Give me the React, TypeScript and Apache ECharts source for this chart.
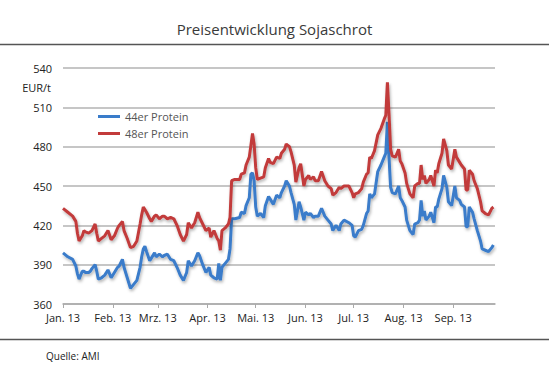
import React, { useEffect, useRef } from "react";
import * as echarts from "echarts";

// Day offsets from 1 Jan 2013
const dayOfYear2013 = [
  0, 3, 6, 8, 9, 10, 12, 13, 14, 16,
  17, 18, 20, 21, 22, 24, 26, 28, 30, 32,
  34, 35, 37, 38, 40, 42, 44, 46, 48, 49,
  50, 51, 52, 54, 55, 57, 58, 60, 62, 63,
  65, 67, 69, 71, 73, 75, 77, 78, 80, 82,
  84, 85, 87, 89, 91, 92, 94, 96, 97, 98,
  99, 101, 103, 104, 105, 107, 110, 111, 113, 114,
  116, 117, 118, 119, 120, 121, 123, 125, 126, 128,
  129, 131, 133, 135, 136, 138, 139, 141, 142, 144,
  145, 147, 148, 150, 151, 153, 154, 156, 157, 159,
  161, 163, 165, 167, 168, 170, 172, 173, 175, 178,
  180, 181, 182, 184, 186, 187, 189, 190, 191, 192,
  194, 196, 198, 200, 201, 202, 203, 204, 205, 207,
  209, 210, 211, 213, 214, 216, 218, 219, 221, 222,
  223, 224, 225, 226, 228, 229, 231, 232, 233, 234,
  236, 237, 239, 240, 242, 244, 245, 247, 248, 250,
  251, 252, 253, 255, 256, 258, 260, 261, 263, 265,
  267, 268,
];

const protein44 = [
  399, 396, 394, 389, 383, 379, 385, 385, 384, 384,
  385, 387, 390, 385, 379, 380, 382, 386, 380, 384,
  388, 389, 394, 388, 380, 372, 375, 378, 388, 396,
  402, 404, 400, 393, 395, 399, 396, 398, 396, 397,
  398, 394, 393, 388, 382, 378, 384, 393, 389, 393,
  399, 397, 390, 384, 388, 382, 380, 379, 391, 378,
  388, 391, 394, 402, 425, 425, 426, 430, 429, 435,
  441, 459, 460, 454, 434, 427, 429, 426, 435, 442,
  440, 436, 443, 441, 445, 450, 454, 450, 445, 436,
  424, 438, 434, 424, 430, 428, 429, 426, 427, 427,
  433, 427, 424, 421, 416, 420, 416, 421, 424, 422,
  420, 412, 411, 416, 417, 420, 429, 431, 444, 441,
  444, 461, 466, 472, 475, 499, 472, 449, 445, 444,
  450, 441, 439, 434, 424, 416, 413, 421, 422, 424,
  439, 427, 431, 424, 427, 430, 422, 434, 434, 440,
  448, 458, 449, 438, 435, 450, 441, 439, 436, 434,
  419, 419, 434, 430, 425, 416, 408, 402, 401, 400,
  403, 405,
];

const protein48 = [
  433, 430, 427, 423, 414, 408, 412, 416, 415, 414,
  415, 416, 421, 414, 408, 410, 412, 416, 409, 412,
  418, 420, 423, 416, 410, 403, 404, 408, 421, 428,
  434, 432, 430, 425, 423, 427, 428, 425, 427, 427,
  425, 426, 425, 420, 413, 408, 413, 422, 418, 422,
  430, 426, 421, 416, 418, 411, 416, 410, 408, 401,
  416, 418, 421, 426, 454, 455, 455, 459, 460, 466,
  472, 481, 490, 482, 464, 455, 456, 457, 464, 471,
  468, 467, 472, 471, 475, 478, 482, 480, 476, 466,
  453, 464, 467, 450, 455, 458, 455, 457, 454, 454,
  461, 454, 450, 448, 443, 445, 449, 448, 450, 450,
  445, 441, 444, 445, 448, 453, 459, 460, 472, 471,
  477, 489, 494, 501, 504, 529, 505, 478, 473, 472,
  478, 469, 467, 460, 452, 444, 441, 450, 452, 452,
  466, 455, 458, 452, 455, 458, 450, 462, 460, 467,
  475, 486, 477, 466, 463, 478, 472, 468, 466, 463,
  447, 447, 462, 459, 454, 448, 438, 431, 429, 428,
  433, 434,
];

const monthLabels = ["Jan.", "Feb.", "Mrz.", "Apr.", "Mai.", "Jun.", "Jul.", "Aug.", "Sep.", "Okt.", "Nov.", "Dez."];
const seriesNames = ["44er Protein", "48er Protein"];
const yTicks = { min: 360, max: 540, interval: 30 };
const axisEndDay = 269;

const DAY = 86400000;
const toTime = (d: number) => new Date(2013, 0, 1 + d).getTime();

export default function App() {
  const ref = useRef<HTMLDivElement>(null);

  useEffect(() => {
    document.body.style.margin = "0";
    if (!ref.current) return;
    const chart = echarts.init(ref.current, undefined, { renderer: "svg" });
    const font = "'Open Sans', 'Noto Sans', sans-serif";
    const shadow = {
      shadowColor: "rgba(0,0,0,0.3)",
      shadowBlur: 3,
      shadowOffsetX: 1,
      shadowOffsetY: 2,
    };
    chart.setOption({
      animation: false,
      backgroundColor: "#ffffff",
      textStyle: { fontFamily: font },
      title: {
        text: "Preisentwicklung Sojaschrot",
        left: "center",
        top: 16,
        textStyle: { fontSize: 15, fontWeight: "normal", color: "#3a3a3a", fontFamily: font },
      },
      legend: {
        orient: "vertical",
        left: 98,
        top: 111,
        itemWidth: 22,
        itemHeight: 3,
        itemGap: 6,
        icon: "rect",
        padding: 0,
        textStyle: { fontSize: 11, color: "#555", fontFamily: font },
        data: seriesNames,
      },
      grid: { left: 63, right: 54, top: 68, bottom: 71, containLabel: false, outerBoundsMode: "none" },
      xAxis: {
        type: "time",
        min: toTime(0),
        max: toTime(axisEndDay),
        minInterval: 28 * DAY,
        maxInterval: 31 * DAY,
        splitNumber: 9,
        axisLine: { show: true, lineStyle: { color: "#aaa", width: 1.5 } },
        axisTick: { show: true, length: 4, lineStyle: { color: "#aaa" } },
        splitLine: { show: false },
        axisLabel: {
          color: "#222",
          fontSize: 11,
          margin: 8,
          hideOverlap: false,
          fontFamily: font,
          formatter: (v: number) => {
            const d = new Date(v);
            return monthLabels[d.getMonth()] + " 13";
          },
        },
      },
      yAxis: {
        type: "value",
        min: yTicks.min,
        max: yTicks.max,
        interval: yTicks.interval,
        axisLine: { show: false },
        axisTick: { show: false },
        splitLine: { show: true, lineStyle: { color: "#b3b3b3", width: 1.5 } },
        axisLabel: { color: "#222", fontSize: 11, margin: 11, fontFamily: font },
      },
      series: [
        {
          name: seriesNames[0],
          type: "line",
          symbol: "none",
          color: "#3a7cca",
          lineStyle: { width: 3, color: "#3a7cca", ...shadow },
          data: dayOfYear2013.map((d, i) => [toTime(d), protein44[i]]),
        },
        {
          name: seriesNames[1],
          type: "line",
          symbol: "none",
          color: "#c23b3b",
          lineStyle: { width: 3, color: "#c23b3b", ...shadow },
          data: dayOfYear2013.map((d, i) => [toTime(d), protein48[i]]),
        },
      ],
      graphic: [
        { type: "line", shape: { x1: 0, y1: 44.5, x2: 549, y2: 44.5 }, style: { stroke: "#555", lineWidth: 1.5 } },
        { type: "line", shape: { x1: 0, y1: 339.5, x2: 549, y2: 339.5 }, style: { stroke: "#555", lineWidth: 1.5 } },
        {
          type: "text",
          x: 51,
          y: 87,
          style: { text: "EUR/t", fill: "#222", fontSize: 11, fontFamily: font, textAlign: "right", textVerticalAlign: "middle" },
        },
        {
          type: "text",
          x: 46,
          y: 356,
          style: { text: "Quelle: AMI", fill: "#222", fontSize: 10, fontFamily: font, textAlign: "left", textVerticalAlign: "middle" },
        },
      ],
    });
    return () => chart.dispose();
  }, []);

  return <div ref={ref} style={{ position: "absolute", left: 0, top: 0, width: 549, height: 375 }} />;
}
